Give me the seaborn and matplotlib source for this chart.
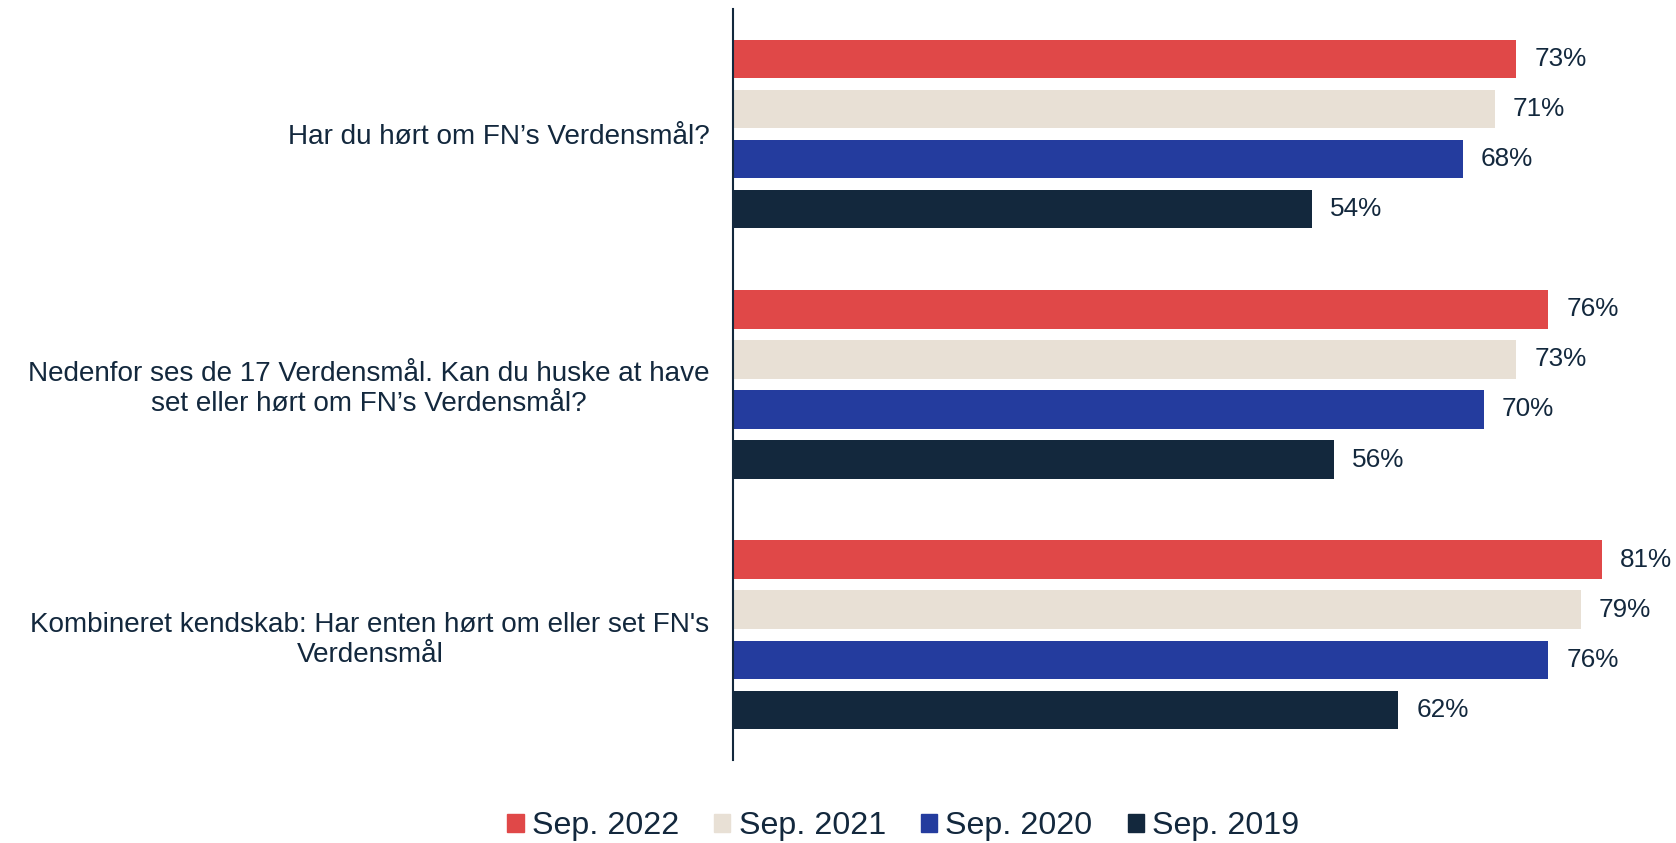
import pandas as pd
import matplotlib.pyplot as plt
import seaborn as sns

sns.set_theme(style="white")
plt.rcParams["font.family"] = ["Liberation Sans", "DejaVu Sans"]

# --- Data ---
questions = [
    "Har du hørt om FN’s Verdensmål?",
    "Nedenfor ses de 17 Verdensmål. Kan du huske at have\nset eller hørt om FN’s Verdensmål?",
    "Kombineret kendskab: Har enten hørt om eller set FN's\nVerdensmål",
]
periods = ["Sep. 2022", "Sep. 2021", "Sep. 2020", "Sep. 2019"]
sep_2022 = [73, 76, 81]
sep_2021 = [71, 73, 79]
sep_2020 = [68, 70, 76]
sep_2019 = [54, 56, 62]

colors = ["#E04848", "#E8E0D5", "#243C9E", "#13283D"]
TEXT = "#13283D"

rows = []
for period, vals in zip(periods, [sep_2022, sep_2021, sep_2020, sep_2019]):
    for q, v in zip(questions, vals):
        rows.append({"question": q, "period": period, "value": v})
df = pd.DataFrame(rows)

fig = plt.figure(figsize=(16.76, 8.43), dpi=100)
ax = fig.add_axes([0.4374, 0.0985, 0.5626, 0.891])

sns.barplot(data=df, y="question", x="value", hue="period", order=questions,
            hue_order=periods, palette=colors, orient="h", gap=0.23,
            linewidth=0, saturation=1, ax=ax, legend=False)

for cont in ax.containers:
    ax.bar_label(cont, fmt="%d%%", padding=13, fontsize=18.8, color=TEXT)

ax.set_xlim(0, 87.9)
ax.set_ylim(2.5, -0.5)
ax.set_xlabel("")
ax.set_ylabel("")
ax.set_xticks([])
ax.tick_params(axis="y", length=0, pad=17, labelsize=20.1, labelcolor=TEXT)
for lbl in ax.get_yticklabels():
    lbl.set_multialignment("center")

for side in ["top", "right", "bottom"]:
    ax.spines[side].set_visible(False)
ax.spines["left"].set_color(TEXT)
ax.spines["left"].set_linewidth(1.5)

# legend along the bottom, small square markers
handles = [plt.Rectangle((0, 0), 1, 1, color=c) for c in colors]
fig.legend(handles, periods, loc="center", bbox_to_anchor=(0.539, 0.02),
           ncol=4, frameon=False, fontsize=23.2, labelcolor=TEXT,
           handlelength=0.5, handleheight=0.5, handletextpad=0.25,
           columnspacing=1.1)

fig.savefig("out.png", dpi=100)
